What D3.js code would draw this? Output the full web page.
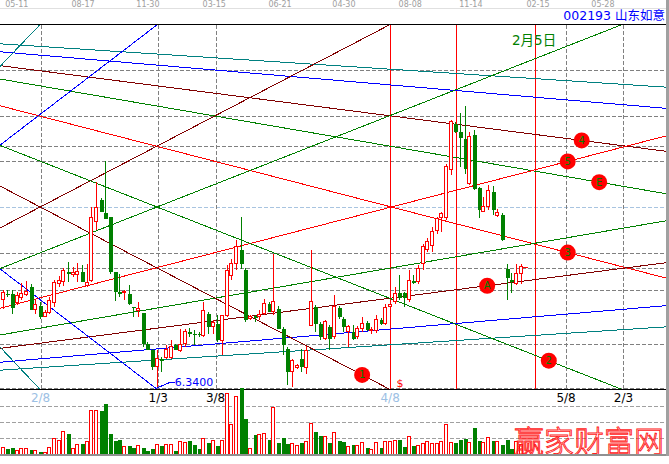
<!DOCTYPE html>
<html>
<head>
<meta charset="utf-8">
<script src="https://cdn.jsdelivr.net/npm/d3@7"></script>
<style>
  html, body { margin: 0; padding: 0; background: #fff; }
  svg { display: block; }
  text { font-family: "DejaVu Sans", "Noto Sans CJK SC", sans-serif; }
</style>
</head>
<body>
<svg id="chart" width="669" height="464"></svg>
<script>
// ---- daily bars (oldest first) ----
const open = [8.11,8.23,8.22,8.05,8.15,8.22,8.37,7.91,7.99,7.78,7.85,8.05,8.43,8.47,8.66,8.62,8.62,8.67,8.39,8.50,
  9.67,10.10,9.85,9.77,8.67,8.27,8.25,8.23,7.97,7.90,7.85,7.23,7.10,6.77,6.93,6.95,6.95,7.20,7.09,7.23,
  7.47,7.43,7.43,7.40,7.82,7.57,7.63,7.30,7.80,8.60,8.83,9.11,8.70,7.73,7.78,7.77,7.83,8.03,7.87,7.93,
  7.53,7.13,6.67,6.75,6.93,6.75,7.60,7.97,7.63,7.33,7.57,7.37,7.95,7.73,7.47,7.47,7.37,7.53,7.65,7.49,
  7.50,7.71,7.63,7.97,8.07,8.24,8.24,8.12,8.49,8.47,8.83,9.12,9.20,9.50,9.75,9.75,10.71,11.63,11.47,11.33,
  10.43,11.40,10.35,9.87,9.97,10.27,9.80,9.80,8.72,8.51,8.43,8.63];
const high = [8.30,8.30,8.30,8.27,8.45,8.49,8.43,8.10,8.07,7.90,8.17,8.50,8.58,8.75,8.87,8.77,8.85,8.80,8.83,9.97,
  10.47,10.14,10.88,9.77,8.67,8.63,8.30,8.40,7.97,8.07,7.85,7.27,7.13,7.10,6.97,7.20,7.30,7.23,7.53,7.53,
  7.55,7.50,7.47,8.07,7.87,7.70,7.80,7.80,8.80,8.93,9.30,9.77,8.74,7.80,7.80,7.90,8.13,8.06,9.03,7.98,
  7.56,7.17,6.93,6.83,7.13,7.18,9.11,8.00,7.66,7.70,7.60,8.20,7.98,7.76,7.60,7.60,7.58,7.77,7.68,7.57,
  7.80,7.74,8.03,8.07,8.37,8.60,8.26,8.70,8.60,8.80,9.23,9.34,9.57,9.77,9.87,10.83,11.70,11.66,11.85,11.98,
  11.47,11.50,10.36,10.17,10.40,10.38,9.92,9.84,8.82,8.64,8.83,8.83];
const low = [7.93,8.17,7.82,8.00,8.10,8.18,7.91,7.83,7.73,7.77,7.83,7.97,8.37,8.38,8.47,8.57,8.47,8.47,8.37,8.47,
  9.50,9.87,9.73,8.63,8.09,8.17,8.10,8.00,7.77,7.77,7.17,7.10,6.70,6.34,6.67,6.93,6.93,7.10,7.07,7.17,
  7.37,7.20,7.37,7.37,7.43,7.43,7.27,7.00,7.77,8.50,8.70,8.73,7.66,7.70,7.67,7.70,7.80,7.86,7.80,7.52,
  7.00,6.40,6.37,6.73,6.67,6.63,7.58,7.47,7.30,7.30,7.10,7.33,7.73,7.47,7.17,7.30,7.33,7.47,7.48,7.43,
  7.45,7.60,7.60,7.95,8.03,8.10,7.97,8.07,8.43,8.43,8.70,9.06,9.07,9.43,9.47,9.70,10.60,11.44,10.77,10.63,
  10.40,10.30,9.75,9.87,9.90,9.80,9.77,9.28,8.10,8.24,8.40,8.43];
const close = [8.25,8.21,7.95,8.19,8.23,8.27,7.91,8.02,7.77,7.85,8.10,8.45,8.49,8.70,8.62,8.65,8.67,8.47,8.45,9.75,
  9.95,9.87,9.73,8.67,8.27,8.23,8.27,8.02,7.94,7.93,7.23,7.11,6.77,6.93,6.89,7.11,7.18,7.11,7.22,7.47,
  7.43,7.40,7.40,7.89,7.57,7.65,7.30,7.80,8.70,8.83,9.17,8.83,7.70,7.78,7.75,7.81,8.03,7.87,8.07,7.53,
  7.20,6.67,6.90,6.79,6.77,7.10,8.07,7.63,7.37,7.67,7.33,7.97,7.77,7.57,7.57,7.33,7.53,7.63,7.50,7.51,
  7.71,7.62,7.95,8.02,8.23,8.14,8.14,8.50,8.45,8.73,9.17,9.28,9.48,9.73,9.83,10.78,11.67,11.47,11.35,10.73,
  11.38,10.33,9.90,9.97,10.30,9.90,9.85,9.30,8.55,8.47,8.63,8.77];
const volume = [19,16,19,10,16,16,13,10,7,4,19,46,40,67,61,16,28,31,37,130,
  130,130,151,61,40,43,22,25,19,25,19,10,16,28,25,28,28,10,37,34,
  40,28,16,46,34,40,25,40,181,88,172,199,106,16,58,58,61,43,139,34,
  49,31,31,25,34,37,91,67,55,52,34,64,40,37,22,28,25,34,19,13,
  34,19,37,37,40,43,22,52,25,25,31,37,31,31,37,88,34,34,43,46,
  34,79,40,34,49,40,37,28,43,16,37,28];

// ---- reference levels and time marks ----
const priceLevels = [12.70, 11.78, 11.18, 10.88, 9.04, 8.74, 8.30, 7.22, 6.34];
const midLevel = 9.96;
const volumeLevels = [48, 96, 144];
const dashedDays = [8.1, 33.3, 45.6, 120.7, 133.0];
const redDays = [83.0, 97.2, 114.1];
const markLabels = ["2/8", "1/3", "3/8", "4/8", "5/8", "2/3"];
const markDays = [8.1, 33.3, 45.6, 83.0, 120.7, 133.0];
const markMuted = [true, false, false, true, false, false];
const topDates = ["05-11","08-17","11-30","03-15","06-21","04-30","08-08","11-14","02-15","05-28"];
const topDays = [3.0, 17.2, 31.1, 45.3, 59.4, 73.1, 87.3, 100.3, 114.7, 128.6];

// ---- angle lines: [colour, day1, price1, day2, price2] ----
const angleLines = [
  ["#008080", 0, 13.22, 140, 12.37],
  ["#0000ff", 0, 13.06, 140, 11.95],
  ["#800000", 0, 12.78, 140, 11.10],
  ["#008000", 0, 12.51, 140, 10.26],
  ["#ff0000", 0, 11.97, 140, 8.59],
  ["#ff0000", 0, 7.95, 140, 11.33],
  ["#008000", 0, 7.41, 140, 9.65],
  ["#800000", 0, 7.14, 140, 8.82],
  ["#0000ff", 0, 6.86, 140, 7.97],
  ["#008080", 0, 6.70, 140, 7.55],
  ["#008080", 0, 12.83, 8, 13.61],
  ["#008080", 0, 7.10, 8, 6.31],
  ["#0000ff", 0, 11.24, 33, 13.60],
  ["#0000ff", 0, 8.68, 33, 6.32],
  ["#800000", 0, 9.57, 83, 13.61],
  ["#800000", 0, 10.35, 83, 6.31],
  ["#008000", 0, 8.75, 133, 13.62],
  ["#008000", 0, 11.17, 133, 6.30]
];
// ---- markers sitting on angle lines: label, day, line ----
const markerLabels = ["1", "2", "3", "4", "5", "E", "A"];
const markerDays = [77.0, 117.0, 121.05, 124.05, 121.05, 127.8, 103.8];
const markerLine = [15, 17, 4, 2, 5, 3, 7];

const lowPrice = 6.34;

// ---- scales ----
const x = d3.scaleLinear().domain([0, 111]).range([2.8, 520.8]);
const y = d3.scaleLinear().domain([6.34, 13.62]).range([388, 24]);
const yv = d3.scaleLinear().domain([0, 200]).range([454.3, 387.6]);

const RIGHT = 666, TOP = 24.5, BOTTOM = 389.5;
const RED = "#ff0000", GREEN = "#008000";

const svg = d3.select("#chart");
svg.append("rect").attr("width", 669).attr("height", 464).attr("fill", "#fff");

const defs = svg.append("defs");
defs.append("clipPath").attr("id", "plotClip")
  .append("rect").attr("x", 0).attr("y", TOP).attr("width", RIGHT).attr("height", BOTTOM - TOP);

// header: date row and stock name
svg.selectAll("text.date").data(topDates).join("text").attr("class", "date")
  .attr("x", (d, i) => x(topDays[i])).attr("y", 7)
  .attr("text-anchor", "middle").attr("font-size", 8).attr("fill", "#a0a0a0").text(d => d);
svg.append("line").attr("x1", 0).attr("x2", RIGHT).attr("y1", 8.5).attr("y2", 8.5)
  .attr("stroke", "#e0e0e0");
svg.append("text").attr("x", 665).attr("y", 20).attr("text-anchor", "end")
  .attr("font-size", 12.5).attr("fill", "#0000ff").text("002193 山东如意");

const plot = svg.append("g").attr("clip-path", "url(#plotClip)").attr("shape-rendering", "crispEdges");

// horizontal levels
plot.selectAll("line.lvl").data(priceLevels).join("line").attr("class", "lvl")
  .attr("x1", 0).attr("x2", RIGHT)
  .attr("y1", d => Math.round(y(d)) + 0.5).attr("y2", d => Math.round(y(d)) + 0.5)
  .attr("stroke", "#808080").attr("stroke-dasharray", "4,2");
plot.append("line").attr("x1", 0).attr("x2", RIGHT)
  .attr("y1", Math.round(y(midLevel)) + 0.5).attr("y2", Math.round(y(midLevel)) + 0.5)
  .attr("stroke", "#a8c4e0").attr("stroke-dasharray", "4,2");

// vertical time marks
plot.selectAll("line.vd").data(dashedDays).join("line").attr("class", "vd")
  .attr("x1", d => Math.round(x(d)) + 0.5).attr("x2", d => Math.round(x(d)) + 0.5)
  .attr("y1", TOP).attr("y2", BOTTOM)
  .attr("stroke", "#808080").attr("stroke-dasharray", "4,2");
plot.selectAll("line.vr").data(redDays).join("line").attr("class", "vr")
  .attr("x1", d => Math.round(x(d)) + 0.5).attr("x2", d => Math.round(x(d)) + 0.5)
  .attr("y1", TOP).attr("y2", BOTTOM).attr("stroke", RED);

// angle lines, extended across the plot
function lineAt(l, day) {
  const [, d1, p1, d2, p2] = l;
  return p1 + (p2 - p1) * (day - d1) / (d2 - d1);
}
const dayMin = -3, dayMax = 146;
plot.selectAll("line.ang").data(angleLines).join("line").attr("class", "ang")
  .attr("x1", x(dayMin)).attr("y1", d => y(lineAt(d, dayMin)))
  .attr("x2", x(dayMax)).attr("y2", d => y(lineAt(d, dayMax)))
  .attr("stroke", d => d[0]).attr("stroke-width", 1);

// candles
const bars = d3.range(open.length).map(i => ({
  i, o: open[i], h: high[i], l: low[i], c: close[i], v: volume[i], up: close[i] >= open[i]
}));
const cg = plot.append("g");
cg.selectAll("line.wick").data(bars).join("line").attr("class", "wick")
  .attr("x1", d => Math.round(x(d.i)) + 0.5).attr("x2", d => Math.round(x(d.i)) + 0.5)
  .attr("y1", d => y(d.h)).attr("y2", d => y(d.l))
  .attr("stroke", d => d.up ? RED : GREEN);
cg.selectAll("rect.body").data(bars).join("rect").attr("class", "body")
  .attr("x", d => Math.round(x(d.i)) - 1.5)
  .attr("width", d => d.up ? 3 : 4)
  .attr("y", d => y(Math.max(d.o, d.c)))
  .attr("height", d => Math.max(1, Math.abs(y(d.o) - y(d.c))))
  .attr("fill", d => d.up ? "#fff" : GREEN)
  .attr("stroke", d => d.up ? RED : "none");

// last price tick
const last = bars[bars.length - 1];
plot.append("line")
  .attr("x1", x(last.i) + 2).attr("x2", x(last.i) + 7)
  .attr("y1", Math.round(y(last.c)) + 0.5).attr("y2", Math.round(y(last.c)) + 0.5)
  .attr("stroke", RED);

// lowest bar annotation
const lowBar = bars.find(b => b.l === lowPrice);
const lx = x(lowBar.i), ly = y(lowPrice);
plot.append("polyline")
  .attr("points", `${lx},${ly} ${lx + 14},${ly - 6} ${lx + 18},${ly - 6}`)
  .attr("fill", "none").attr("stroke", "#0000ff");
svg.append("text").attr("x", lx + 18).attr("y", ly - 2)
  .attr("font-size", 11).attr("fill", "#0000ff").text(lowPrice.toFixed(4));

// markers on the angle lines
const markers = markerLabels.map((t, k) => ({
  t, cx: x(markerDays[k]), cy: y(lineAt(angleLines[markerLine[k]], markerDays[k]))
}));
const mg = svg.append("g");
mg.selectAll("circle").data(markers).join("circle")
  .attr("cx", d => d.cx).attr("cy", d => d.cy).attr("r", 8).attr("fill", RED);
mg.selectAll("text").data(markers).join("text")
  .attr("x", d => d.cx).attr("y", d => d.cy + 3.5).attr("text-anchor", "middle")
  .attr("font-size", 10).attr("fill", GREEN).text(d => d.t);

svg.append("text").attr("x", 400).attr("y", 386.5).attr("text-anchor", "middle")
  .attr("font-size", 11).attr("fill", RED).text("$");
svg.append("text").attr("x", 512).attr("y", 45)
  .attr("font-size", 13.5).attr("fill", GREEN).text("2月5日");

// frame lines
svg.append("line").attr("x1", 0).attr("x2", RIGHT).attr("y1", TOP).attr("y2", TOP)
  .attr("stroke", "#000").attr("shape-rendering", "crispEdges");
svg.append("line").attr("x1", 0).attr("x2", RIGHT).attr("y1", BOTTOM).attr("y2", BOTTOM)
  .attr("stroke", "#000").attr("shape-rendering", "crispEdges");

// ---- volume pane ----
const vg = svg.append("g").attr("shape-rendering", "crispEdges");
vg.selectAll("line.vl").data(volumeLevels).join("line").attr("class", "vl")
  .attr("x1", 0).attr("x2", RIGHT)
  .attr("y1", d => Math.round(yv(d)) + 0.5).attr("y2", d => Math.round(yv(d)) + 0.5)
  .attr("stroke", "#a0a0a0").attr("stroke-dasharray", "4,2");
vg.selectAll("rect.vol").data(bars).join("rect").attr("class", "vol")
  .attr("x", d => Math.round(x(d.i)) - 1.5)
  .attr("width", d => d.up ? 3 : 4)
  .attr("y", d => yv(d.v))
  .attr("height", d => yv(0) - yv(d.v))
  .attr("fill", d => d.up ? "#fff" : GREEN)
  .attr("stroke", d => d.up ? RED : "none");

// time mark labels
svg.selectAll("text.mark").data(markLabels).join("text").attr("class", "mark")
  .attr("x", (d, i) => x(markDays[i])).attr("y", 402)
  .attr("text-anchor", "middle").attr("font-size", 12)
  .attr("fill", (d, i) => markMuted[i] ? "#9cc0e4" : "#000").text(d => d);

// site mark
svg.append("text").attr("x", 514).attr("y", 452)
  .attr("font-family", "Noto Sans CJK SC").attr("font-weight", 300)
  .attr("font-size", 30).attr("fill", "none").attr("stroke", "#ff2020").attr("stroke-width", 0.9)
  .text("赢家财富网");

// outer frame
svg.append("rect").attr("x", 0).attr("y", 454).attr("width", 667).attr("height", 2).attr("fill", "#909090");
svg.append("rect").attr("x", 666).attr("y", 0).attr("width", 3).attr("height", 456).attr("fill", "#a0a0a0");
</script>
</body>
</html>
